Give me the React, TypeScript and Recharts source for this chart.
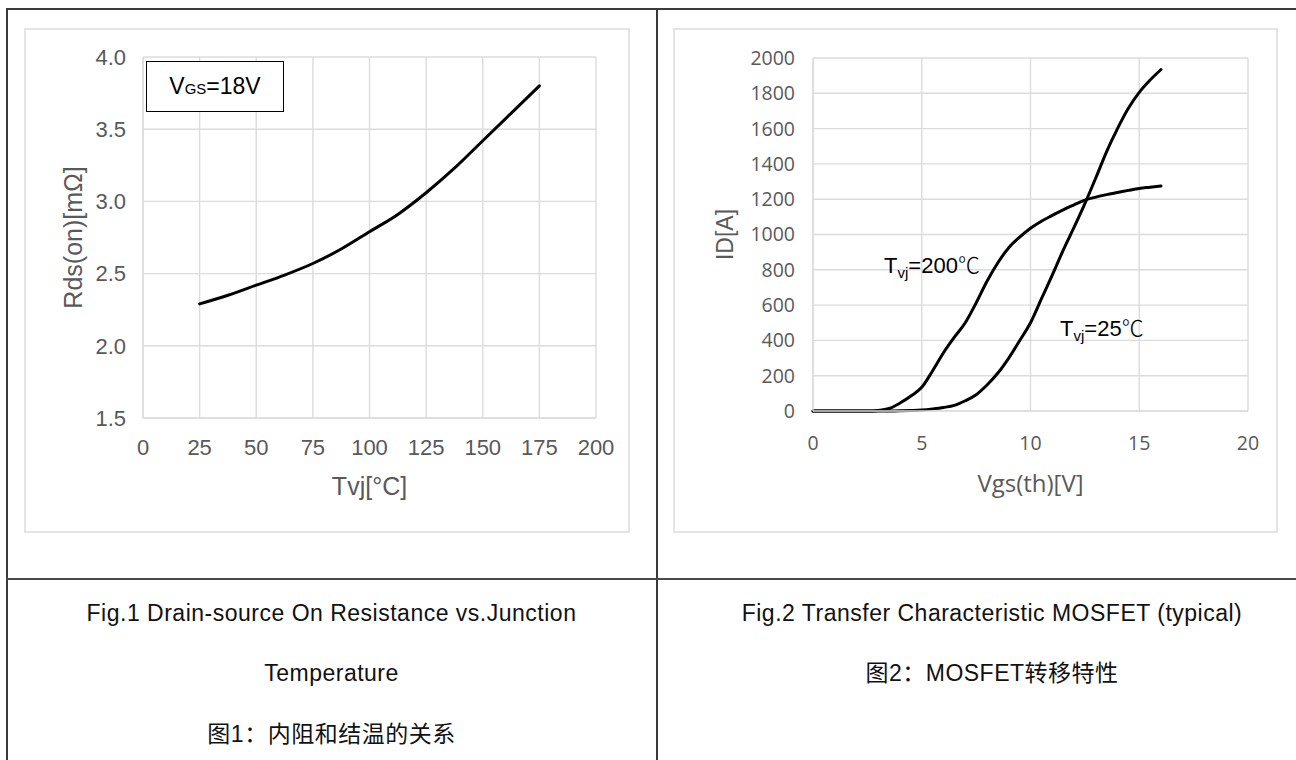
import React from 'react';
import { LineChart, Line, XAxis, YAxis, CartesianGrid } from 'recharts';

// Fig.1: Rds(on) vs junction temperature (VGS = 18V)
const TEMP_C = [25, 37.5, 50, 62.5, 75, 87.5, 100, 112.5, 125, 137.5, 150, 162.5, 175];
const RDS_ON = [2.29, 2.35, 2.42, 2.49, 2.57, 2.67, 2.79, 2.91, 3.06, 3.23, 3.42, 3.61, 3.8];
const TEMP_TICKS = [0, 25, 50, 75, 100, 125, 150, 175, 200];
const RDS_TICKS = [1.5, 2, 2.5, 3, 3.5, 4];

// Fig.2: transfer characteristic
const VGS = [0, 1, 2, 2.5, 3, 3.5, 4, 4.5, 5, 5.5, 6, 6.5, 7, 7.5, 8, 8.5, 9, 9.5, 10, 10.5, 11, 11.5, 12, 12.5, 13, 13.5, 14, 14.5, 15, 15.5, 16];
const ID_200C = [0, 0, 0, 0, 3, 14, 45, 85, 134, 228, 330, 418, 500, 612, 735, 840, 925, 985, 1035, 1075, 1108, 1140, 1168, 1195, 1212, 1226, 1238, 1250, 1261, 1268, 1275];
const ID_25C = [0, 0, 0, 0, 0, 0, 1, 3, 6, 12, 20, 32, 58, 92, 147, 215, 300, 398, 500, 635, 770, 910, 1040, 1175, 1320, 1470, 1600, 1715, 1805, 1875, 1935];
const VGS_TICKS = [0, 5, 10, 15, 20];
const ID_TICKS = [0, 200, 400, 600, 800, 1000, 1200, 1400, 1600, 1800, 2000];

const CAPTION_1 = ['Fig.1 Drain-source On Resistance vs.Junction', 'Temperature', '图1：内阻和结温的关系'];
const CAPTION_2 = ['Fig.2 Transfer Characteristic MOSFET (typical)', '图2：MOSFET转移特性'];

const rdsData = TEMP_C.map((t, i) => ({ t, rds: RDS_ON[i] }));
const idData = VGS.map((v, i) => ({ v, hot: ID_200C[i], cold: ID_25C[i] }));

const GRID = '#dcdcdc';
const TICK_GREY = '#595959';
const LINE_DARK = '#3a3a3a';
const ARIAL = '"Liberation Sans", Arial, sans-serif';
const CJK = '"Liberation Sans", "Noto Sans CJK SC", sans-serif';
const CALIBRI_ISH = '"Open Sans", Lato, sans-serif';

const abs = (left: number, top: number, width: number, height: number): React.CSSProperties => ({
  position: 'absolute', left, top, width, height,
});

const frame: React.CSSProperties = { border: '2px solid #e4e4e4', boxSizing: 'border-box' };

const Caption = ({ text, left, width, top }: { text: string; left: number; width: number; top: number }) => (
  <div style={{ ...abs(left, top, width, 24), textAlign: 'center', fontFamily: CJK, fontSize: 23, letterSpacing: 0.5, lineHeight: '24px', color: '#111', whiteSpace: 'nowrap' }}>
    {text}
  </div>
);

const TvjLabel = ({ temp, left, top }: { temp: string; left: number; top: number }) => (
  <div style={{ position: 'absolute', left, top, fontFamily: ARIAL, fontSize: 22, lineHeight: '22px', color: '#000', whiteSpace: 'nowrap' }}>
    T<span style={{ fontSize: 15, position: 'relative', top: 5, lineHeight: 0 }}>vj</span>={temp}
    <span style={{ fontFamily: '"Noto Sans CJK SC", sans-serif', fontWeight: 300 }}>℃</span>
  </div>
);

const App: React.FC = () => {
  return (
    <div style={{ position: 'absolute', left: 0, top: 0, width: 1296, height: 760, background: '#fff', overflow: 'hidden' }}>
      {/* table rules */}
      <div style={{ ...abs(6, 8, 1340, 1.5), background: LINE_DARK }} />
      <div style={{ ...abs(6, 8, 1.5, 760), background: LINE_DARK }} />
      <div style={{ ...abs(656, 8, 1.5, 760), background: LINE_DARK }} />
      <div style={{ ...abs(6, 578, 1340, 2), background: '#4a4a4a' }} />

      {/* Fig.1 */}
      <div style={{ ...abs(24, 28, 606, 505), ...frame }} />
      <div style={abs(24, 28, 606, 505)}>
        <LineChart width={606} height={505} data={rdsData} margin={{ top: 29, right: 34, bottom: 30, left: 0 }}>
          <CartesianGrid stroke={GRID} strokeWidth={1.4} />
          <XAxis
            dataKey="t"
            type="number"
            domain={[0, 200]}
            ticks={TEMP_TICKS}
            height={85}
            axisLine={{ stroke: GRID, strokeWidth: 1.4 }}
            tickLine={false}
            tickSize={0}
            tickMargin={21}
            tick={{ fill: TICK_GREY, fontSize: 22, fontFamily: ARIAL }}
            label={{ value: 'Tvj[°C]', position: 'insideBottom', offset: 8, fill: TICK_GREY, fontSize: 25, fontFamily: ARIAL }}
          />
          <YAxis
            type="number"
            domain={[1.5, 4]}
            ticks={RDS_TICKS}
            width={119}
            axisLine={{ stroke: GRID, strokeWidth: 1.4 }}
            tickLine={false}
            tickSize={0}
            tickMargin={17}
            tickFormatter={(v: number) => v.toFixed(1)}
            tick={{ fill: TICK_GREY, fontSize: 22, fontFamily: ARIAL }}
            label={{ value: 'Rds(on)[mΩ]', angle: -90, position: 'insideLeft', offset: 49, fill: TICK_GREY, fontSize: 25, fontFamily: ARIAL, style: { textAnchor: 'middle' } }}
          />
          <Line type="monotone" dataKey="rds" stroke="#000" strokeWidth={3} dot={false} strokeLinecap="round" isAnimationActive={false} />
        </LineChart>
      </div>
      <div style={{ ...abs(146, 61, 138, 51), border: '1.5px solid #000', boxSizing: 'border-box', background: '#fff', display: 'flex', alignItems: 'center', justifyContent: 'center', fontFamily: ARIAL, fontSize: 23, color: '#000' }}>
        <span>V<span style={{ fontSize: 15 }}>GS</span>=18V</span>
      </div>

      {/* Fig.2 */}
      <div style={{ ...abs(673, 28, 605, 505), ...frame }} />
      <div style={abs(673, 28, 605, 505)}>
        <LineChart width={605} height={505} data={idData} margin={{ top: 30, right: 30, bottom: 32, left: 0 }}>
          <CartesianGrid stroke={GRID} strokeWidth={1.4} />
          <XAxis
            dataKey="v"
            type="number"
            domain={[0, 20]}
            ticks={VGS_TICKS}
            height={90}
            axisLine={{ stroke: GRID, strokeWidth: 1.4 }}
            tickLine={false}
            tickSize={0}
            tickMargin={25}
            tick={{ fill: TICK_GREY, fontSize: 19.5, fontFamily: CALIBRI_ISH }}
            label={{ value: 'Vgs(th)[V]', position: 'insideBottom', offset: 9, fill: TICK_GREY, fontSize: 24, fontFamily: CALIBRI_ISH }}
          />
          <YAxis
            type="number"
            domain={[0, 2000]}
            ticks={ID_TICKS}
            width={140}
            axisLine={{ stroke: GRID, strokeWidth: 1.4 }}
            tickLine={false}
            tickSize={0}
            tickMargin={18}
            tick={{ fill: TICK_GREY, fontSize: 19.5, fontFamily: CALIBRI_ISH }}
            label={{ value: 'ID[A]', angle: -90, position: 'insideLeft', offset: 52, fill: TICK_GREY, fontSize: 23, fontFamily: ARIAL, style: { textAnchor: 'middle' } }}
          />
          <Line type="monotone" dataKey="hot" stroke="#000" strokeWidth={3} dot={false} strokeLinecap="round" isAnimationActive={false} />
          <Line type="monotone" dataKey="cold" stroke="#000" strokeWidth={3} dot={false} strokeLinecap="round" isAnimationActive={false} />
        </LineChart>
      </div>
      <TvjLabel temp="200" left={884} top={252} />
      <TvjLabel temp="25" left={1060} top={315} />

      {/* captions */}
      <Caption text={CAPTION_1[0]} left={6} width={651} top={601} />
      <Caption text={CAPTION_1[1]} left={6} width={651} top={661} />
      <Caption text={CAPTION_1[2]} left={6} width={651} top={722} />
      <Caption text={CAPTION_2[0]} left={657} width={670} top={601} />
      <Caption text={CAPTION_2[1]} left={657} width={670} top={661} />
    </div>
  );
};

export default App;
